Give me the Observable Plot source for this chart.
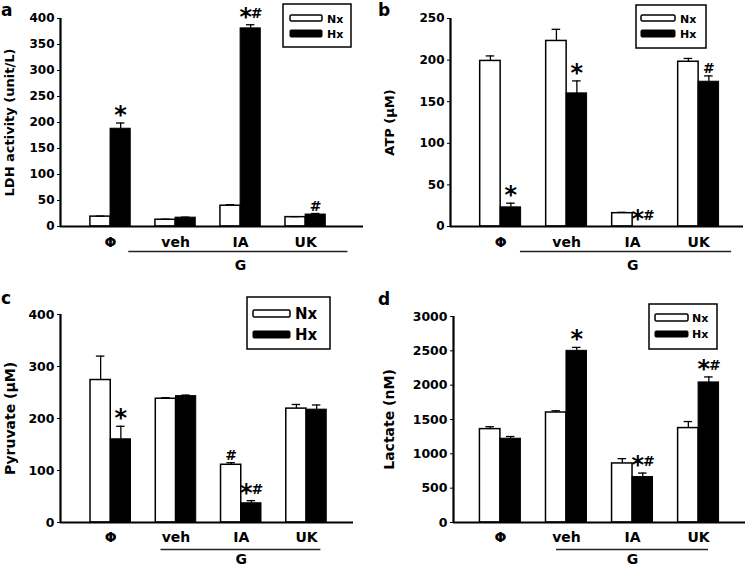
<!DOCTYPE html>
<html><head><meta charset="utf-8">
<script src="https://cdn.jsdelivr.net/npm/d3@7"></script>
<script src="https://cdn.jsdelivr.net/npm/@observablehq/plot@0.6"></script>
<style>
body{margin:0;background:#fff;}
#root{position:relative;width:746px;height:568px;overflow:hidden;background:#fff;font-family:"DejaVu Sans",sans-serif;font-weight:bold;}
.panel{position:absolute;}
</style></head><body><div id="root"></div>
<script>
// ---------- data ----------
const groups = ["Φ", "veh", "IA", "UK"];
const series = ["Nx", "Hx"];
const gMembers = ["veh", "IA", "UK"];
const gLabel = "G";

// a: LDH activity
const ldhNx = [19, 13, 40, 18];
const ldhNxErr = [1, 1, 2, 1];
const ldhHx = [188, 17, 381, 23];
const ldhHxErr = [11, 1, 7, 2];
const ldhNxSig = ["", "", "", ""];
const ldhHxSig = ["*", "", "*#", "#"];
const ldhTicks = [0, 50, 100, 150, 200, 250, 300, 350, 400];

// b: ATP
const atpNx = [199, 223, 16, 198];
const atpNxErr = [6, 14, 1, 4];
const atpHx = [23, 160, 0, 174];
const atpHxErr = [5, 15, 0, 7];
const atpNxSig = ["", "", "", ""];
const atpHxSig = ["*", "*", "*#", "#"];
const atpTicks = [0, 50, 100, 150, 200, 250];

// c: Pyruvate
const pyrNx = [274, 238, 111, 219];
const pyrNxErr = [46, 2, 4, 8];
const pyrHx = [160, 243, 37, 217];
const pyrHxErr = [25, 2, 5, 9];
const pyrNxSig = ["", "", "#", ""];
const pyrHxSig = ["*", "", "*#", ""];
const pyrTicks = [0, 100, 200, 300, 400];

// d: Lactate
const lacNx = [1360, 1602, 860, 1375];
const lacNxErr = [35, 25, 70, 95];
const lacHx = [1220, 2500, 662, 2040];
const lacHxErr = [32, 50, 58, 80];
const lacNxSig = ["", "", "", ""];
const lacHxSig = ["", "*", "*#", "*#"];
const lacTicks = [0, 500, 1000, 1500, 2000, 2500, 3000];

// ---------- layout ----------
const FONT = "DejaVu Sans";
const panels = [
  {letter: "a", left: 0, top: 0, yLabel: "LDH activity (unit/L)", nx: ldhNx, nxErr: ldhNxErr, hx: ldhHx, hxErr: ldhHxErr, nxSig: ldhNxSig, hxSig: ldhHxSig, ticks: ldhTicks,
   mL: 60, mR: 10, mT: 18, mB: 58, xDomain: [-0.77, 3.89], yLabX: 9, yLabSize: 13, tickSize: 12,
   grpDy: 16, gLineDy: 25, gTextDy: 39, gLeft: 0.72, gRight: 0.65,
   legend: {x: 283, y: 4, w: 68, h: 43, sx: 290, sw: 32, y1: 15, h1: 6, y2: 30, h2: 7, tx: 327, ty1: 22.5, ty2: 38, fs: 11}},
  {letter: "b", left: 373, top: 0, yLabel: "ATP (μM)", nx: atpNx, nxErr: atpNxErr, hx: atpHx, hxErr: atpHxErr, nxSig: atpNxSig, hxSig: atpHxSig, ticks: atpTicks,
   mL: 77, mR: 3, mT: 18, mB: 58, xDomain: [-0.76, 3.68], yLabX: 16, yLabSize: 13, tickSize: 12,
   grpDy: 16, gLineDy: 25, gTextDy: 39, gLeft: 0.70, gRight: 0.5,
   legend: {x: 636, y: 5, w: 70, h: 43, sx: 641, sw: 34, y1: 15, h1: 6, y2: 30, h2: 7, tx: 680, ty1: 22.5, ty2: 38, fs: 11}},
  {letter: "c", left: 0, top: 284, yLabel: "Pyruvate (μM)", nx: pyrNx, nxErr: pyrNxErr, hx: pyrHx, hxErr: pyrHxErr, nxSig: pyrNxSig, hxSig: pyrHxSig, ticks: pyrTicks,
   mL: 60, mR: 20, mT: 30, mB: 46, xDomain: [-0.77, 3.72], yLabX: 10, yLabSize: 14, tickSize: 12.5,
   grpDy: 15, gLineDy: 27, gTextDy: 37, gLeft: 0.23, gRight: 0.22,
   legend: {x: 247, y: 297, w: 83, h: 52, sx: 253, sw: 37, y1: 310, h1: 7, y2: 331, h2: 7, tx: 295, ty1: 319, ty2: 340, fs: 15}},
  {letter: "d", left: 373, top: 284, yLabel: "Lactate (nM)", nx: lacNx, nxErr: lacNxErr, hx: lacHx, hxErr: lacHxErr, nxSig: lacNxSig, hxSig: lacHxSig, ticks: lacTicks,
   mL: 80, mR: 1, mT: 32, mB: 46, xDomain: [-0.71, 3.71], yLabX: 16, yLabSize: 14, tickSize: 12.5,
   grpDy: 15, gLineDy: 27, gTextDy: 37, gLeft: 0.15, gRight: 0.15,
   legend: {x: 649, y: 304, w: 68, h: 45, sx: 655, sw: 33, y1: 314, h1: 7, y2: 331, h2: 6, tx: 692, ty1: 322, ty2: 338, fs: 11}}
];
const letterPos = {a: [1, 16], b: [378, 16], c: [1, 304], d: [378, 305]};

const W = 0.31;      // bar width in group-index units
const CAP = 0.065;   // error cap half width

function buildPanel(cfg) {
  const rows = [];
  groups.forEach((g, i) => {
    rows.push({group: g, i, series: "Nx", value: cfg.nx[i], err: cfg.nxErr[i], sig: cfg.nxSig[i]});
    rows.push({group: g, i, series: "Hx", value: cfg.hx[i], err: cfg.hxErr[i], sig: cfg.hxSig[i]});
  });
  const center = d => d.series === "Nx" ? d.i - W / 2 : d.i + W / 2;
  const nxRows = rows.filter(d => d.series === "Nx");
  const hxRows = rows.filter(d => d.series === "Hx");
  const errRows = rows.filter(d => d.err > 0);
  const paired = d => d.sig.includes("*") && d.sig.includes("#");
  const starSingle = rows.filter(d => d.sig.includes("*") && !paired(d));
  const starPaired = rows.filter(paired);
  const hashSingle = rows.filter(d => d.sig.includes("#") && !paired(d));
  const hashPaired = rows.filter(paired);
  const gIdx = gMembers.map(g => groups.indexOf(g));
  const gMid = d3.mean(gIdx);
  const top = d => d.value + d.err;
  const starOpts = {x: center, y: top, text: () => "*", lineAnchor: "bottom", dy: 0, fontSize: 24, fill: "black"};
  const hashOpts = {x: center, y: top, text: () => "#", lineAnchor: "bottom", dy: -3, fontSize: 14, fill: "black"};

  const plot = Plot.plot({
    width: 373, height: 284,
    marginLeft: cfg.mL, marginRight: cfg.mR, marginTop: cfg.mT, marginBottom: cfg.mB,
    style: {fontFamily: FONT, fontWeight: "bold", fontSize: cfg.tickSize + "px", color: "#000", background: "transparent", overflow: "visible"},
    x: {domain: cfg.xDomain, axis: null},
    y: {domain: [cfg.ticks[0], cfg.ticks[cfg.ticks.length - 1]], ticks: cfg.ticks, tickFormat: d => String(d), tickSize: 3, tickPadding: 3, label: null},
    marks: [
      Plot.rectY(nxRows, {x1: d => d.i - W, x2: d => d.i, y1: 0, y2: "value", fill: "white", stroke: "black", strokeWidth: 1.5}),
      Plot.rectY(hxRows, {x1: d => d.i, x2: d => d.i + W, y1: 0, y2: "value", fill: "black", stroke: "black", strokeWidth: 1}),
      Plot.ruleX(errRows, {x: center, y1: "value", y2: top, stroke: "black", strokeWidth: 1.3}),
      Plot.ruleY(errRows, {y: top, x1: d => center(d) - CAP, x2: d => center(d) + CAP, stroke: "black", strokeWidth: 1.3}),
      Plot.ruleY([0], {stroke: "black", strokeWidth: 2.2}),
      Plot.ruleX([cfg.xDomain[0]], {stroke: "black", strokeWidth: 2.2}),
      Plot.text(starSingle, {...starOpts}),
      Plot.text(starPaired, {...starOpts, dx: -5}),
      Plot.text(hashSingle, {...hashOpts}),
      Plot.text(hashPaired, {...hashOpts, dx: 6, dy: -7}),
      Plot.text(groups, {x: (d, i) => i, y: () => 0, text: d => d, dy: cfg.grpDy, lineAnchor: "middle", fontSize: 14, fill: "black"}),
      Plot.ruleY([0], {x1: () => gIdx[0] - cfg.gLeft, x2: () => gIdx[gIdx.length - 1] + cfg.gRight, dy: cfg.gLineDy, stroke: "#222", strokeWidth: 1.3}),
      Plot.text([gLabel], {x: () => gMid, y: () => 0, text: d => d, dy: cfg.gTextDy, lineAnchor: "middle", fontSize: 14, fill: "black"}),
      Plot.text([cfg.yLabel], {frameAnchor: "left", text: d => d, rotate: -90, dx: cfg.yLabX - cfg.mL, textAnchor: "middle", lineAnchor: "middle", fontSize: cfg.yLabSize, fill: "black"})
    ]
  });
  const wrap = document.createElement("div");
  wrap.className = "panel";
  wrap.style.left = cfg.left + "px";
  wrap.style.top = cfg.top + "px";
  wrap.appendChild(plot);
  return wrap;
}

const root = document.getElementById("root");
for (const cfg of panels) root.appendChild(buildPanel(cfg));

// ---------- overlay: panel letters and legends ----------
const ns = "http://www.w3.org/2000/svg";
const ov = document.createElementNS(ns, "svg");
ov.setAttribute("width", 746); ov.setAttribute("height", 568);
ov.style.position = "absolute"; ov.style.left = "0px"; ov.style.top = "0px";
ov.style.fontFamily = FONT; ov.style.fontWeight = "bold";
function el(tag, attrs, text) {
  const e = document.createElementNS(ns, tag);
  for (const k in attrs) e.setAttribute(k, attrs[k]);
  if (text != null) e.textContent = text;
  ov.appendChild(e);
  return e;
}
for (const cfg of panels) {
  const [lx, ly] = letterPos[cfg.letter];
  el("text", {x: lx, y: ly, "font-size": 17}, cfg.letter);
  const L = cfg.legend;
  el("rect", {x: L.x, y: L.y, width: L.w, height: L.h, fill: "white", stroke: "black", "stroke-width": 1.5});
  el("rect", {x: L.sx, y: L.y1, width: L.sw, height: L.h1, fill: "white", stroke: "black", "stroke-width": 1.5, rx: 1.5});
  el("rect", {x: L.sx, y: L.y2, width: L.sw, height: L.h2, fill: "black", stroke: "black", "stroke-width": 1, rx: 1});
  el("text", {x: L.tx, y: L.ty1, "font-size": L.fs}, series[0]);
  el("text", {x: L.tx, y: L.ty2, "font-size": L.fs}, series[1]);
}
root.appendChild(ov);
</script></body></html>
